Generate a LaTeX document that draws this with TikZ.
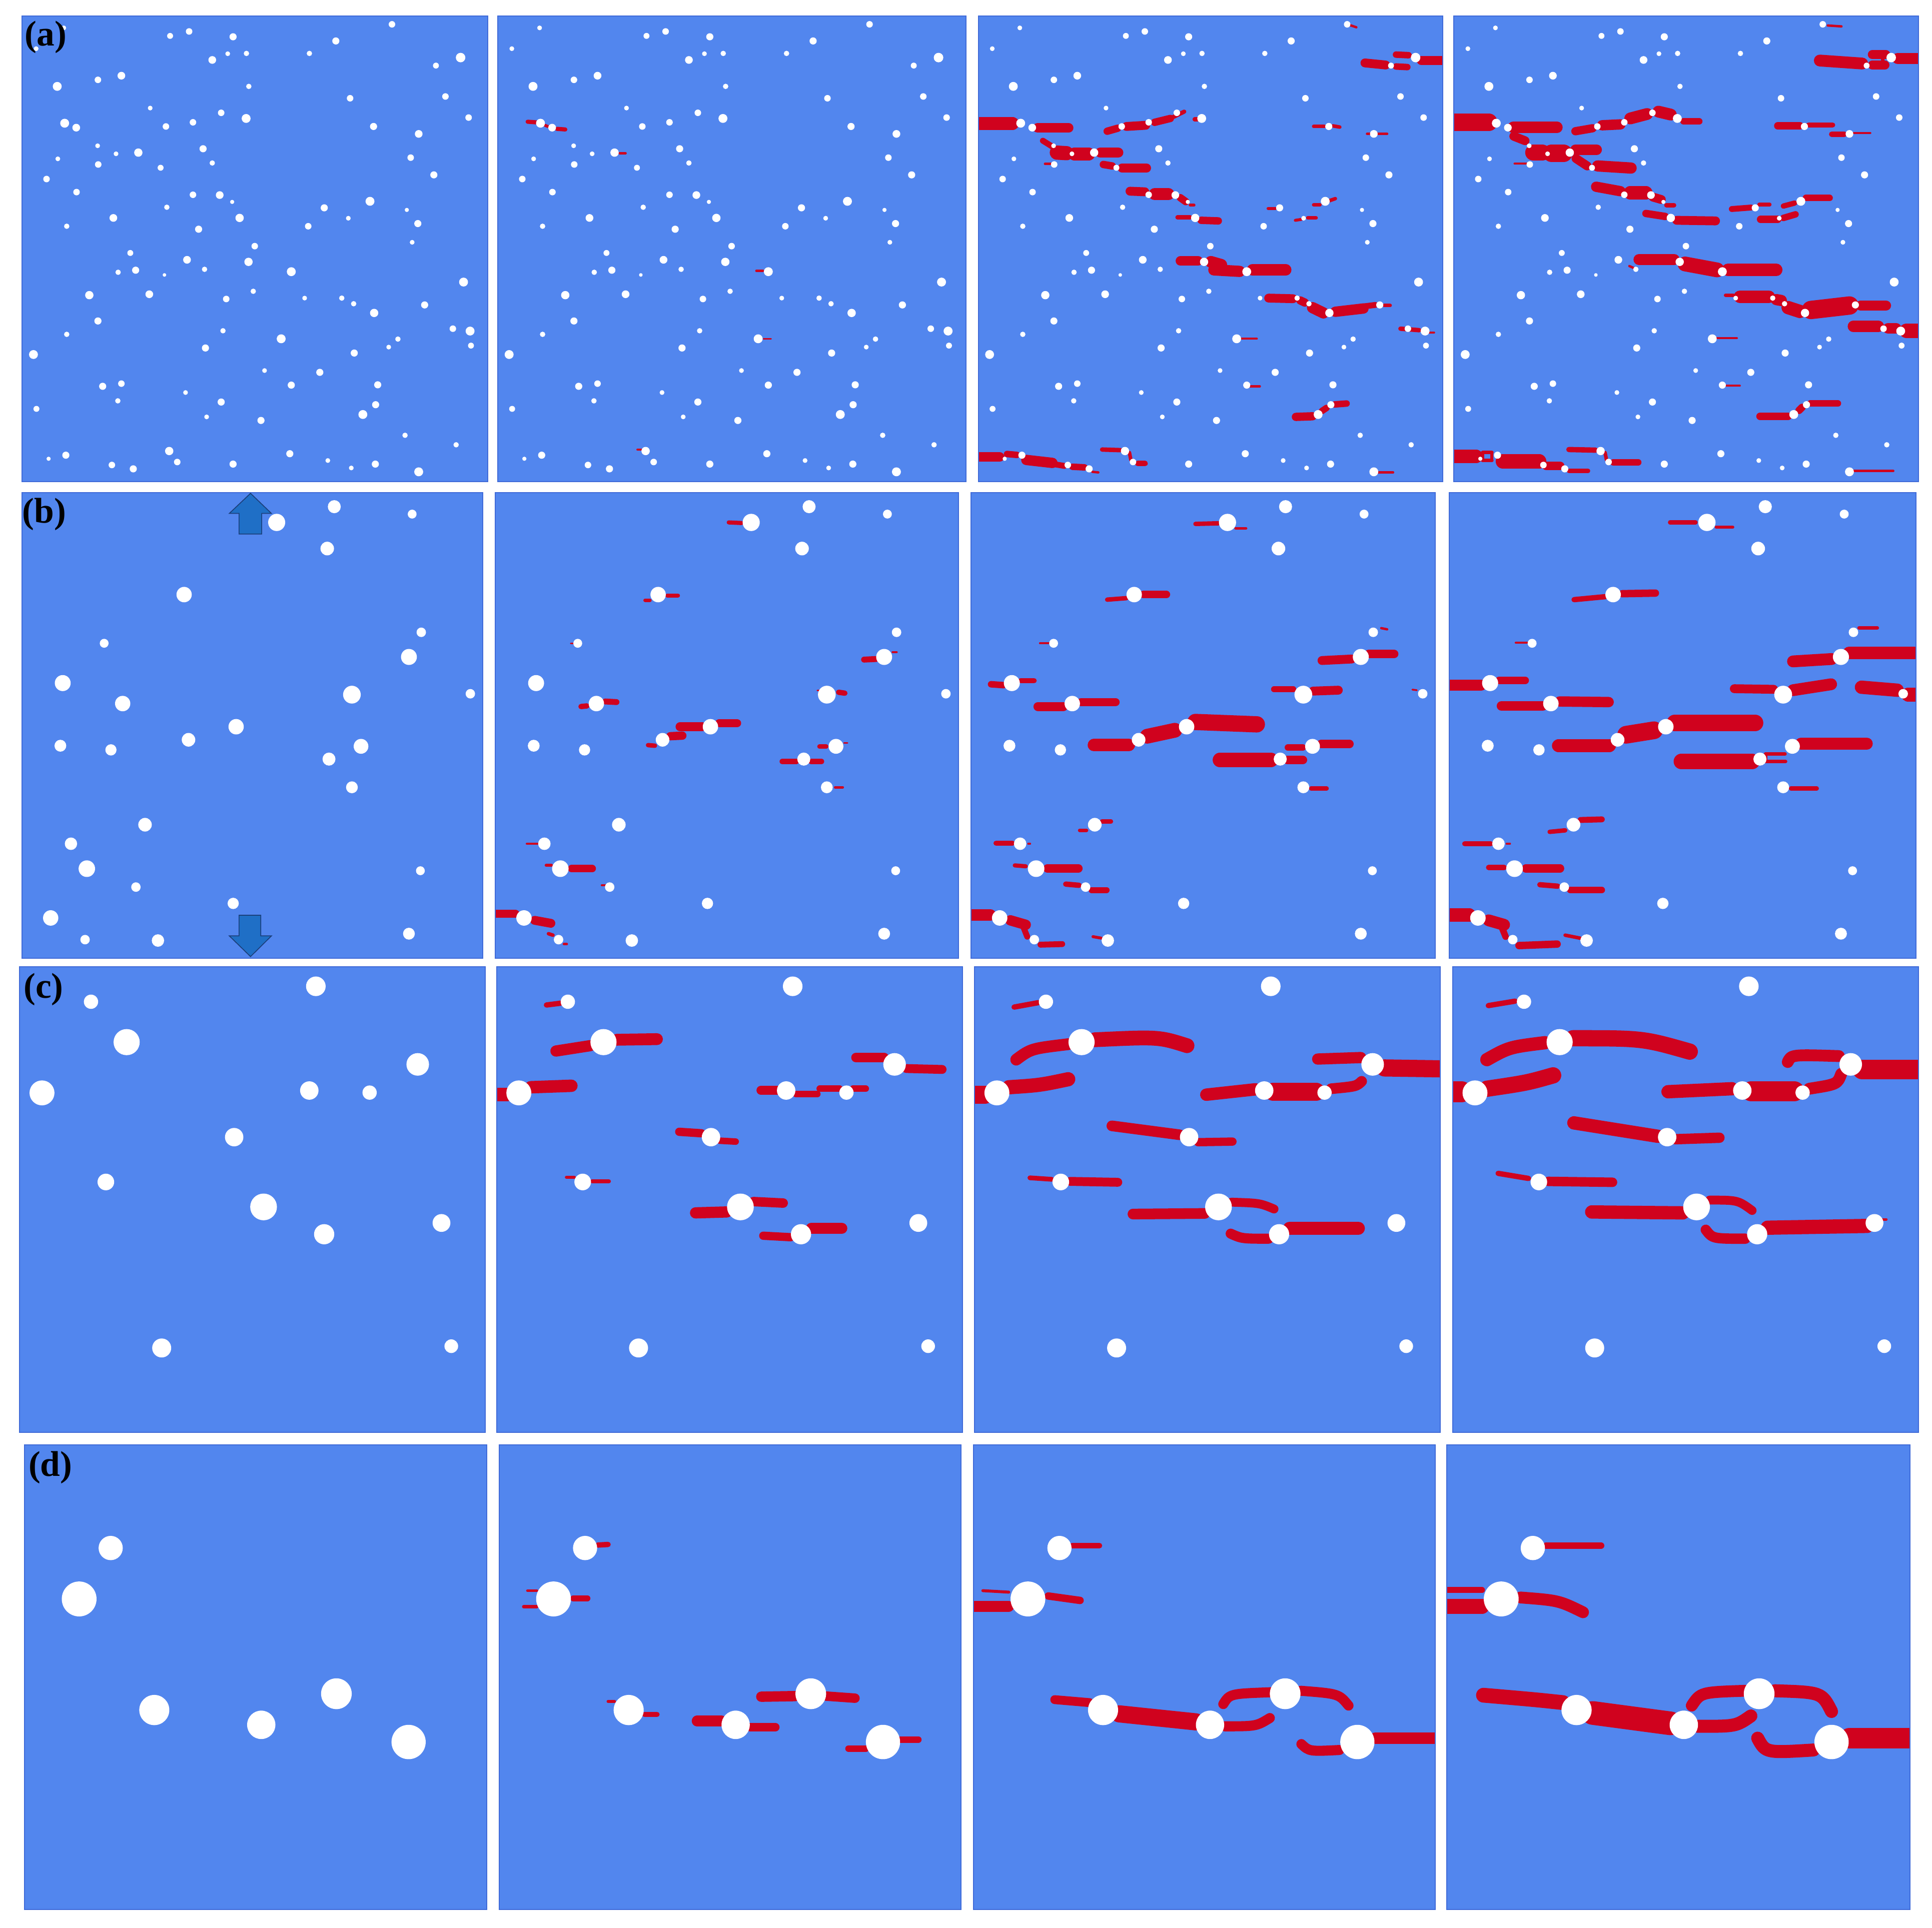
\documentclass[tikz,border=0pt]{standalone}
\usepackage{fontspec}
\setmainfont{Liberation Serif}
\definecolor{bgblue}{HTML}{5286EE}
\definecolor{crack}{HTML}{D0021E}
\definecolor{edge}{HTML}{3F6AD8}
\definecolor{arrowfill}{HTML}{1F6FC6}
\definecolor{arrowedge}{HTML}{1B3F7A}
\tikzset{
  crk/.style={draw=crack, line width=#1*0.24pt, line cap=round, line join=round},
  pbg/.style={fill=bgblue},
  pedge/.style={draw=edge, line width=0.8pt},
  lbl/.style={anchor=north west, inner sep=0pt, font=\fontsize{29}{30}\selectfont\bfseries},
  arr/.style={fill=arrowfill, draw=arrowedge, line width=0.7pt, line join=miter}
}
\newcommand\mypanel[6]{%
  \begin{scope}[shift={(#1,#2)}, xscale=#3/1568, yscale=#4/1568]
    \begin{scope}
      \clip (0,0) rectangle (1568,1568);
      \fill[pbg] (0,0) rectangle (1568,1568);
      #5
      \foreach \x/\y/\d in #6 {\fill[white] (\x,\y) circle (\d/2);}
    \end{scope}
    \draw[pedge] (0,0) rectangle (1568,1568);
  \end{scope}}
\def\dotsA{1245/28/22, 140/40/16, 47/110/16, 498/67/20, 562/52/22, 710/70/24, 1056/84/24, 640/148/26, 692/127/16, 755/126/18, 967/126/18, 1476/140/32, 1393/167/20, 255/215/22, 334/201/26, 118/237/30, 763/237/18, 1104/277/22, 1425/271/22, 431/310/16, 670/326/22, 754/345/30, 1503/342/22, 143/361/30, 182/376/26, 484/372/22, 575/358/22, 1183/372/24, 1335/397/26, 254/437/16, 316/464/16, 391/460/28, 609/447/24, 120/481/16, 256/500/22, 640/495/18, 466/511/20, 1308/477/22, 1386/535/24, 82/549/22, 183/593/22, 575/602/22, 665/603/26, 707/626/14, 1171/624/30, 487/644/18, 1017/646/24, 1295/653/14, 307/680/26, 732/680/28, 1098/681/16, 150/708/18, 963/708/22, 1332/699/24, 594/718/24, 1313/762/16, 783/775/22, 364/798/20, 555/821/26, 762/828/28, 323/863/18, 382/856/24, 614/853/18, 479/872/12, 906/861/30, 1486/896/30, 226/940/28, 428/937/26, 778/927/18, 687/953/22, 951/950/16, 1076/950/18, 1116/969/18, 1355/973/24, 1185/1000/28, 255/1027/24, 150/1072/18, 676/1060/18, 1450/1053/22, 1508/1061/30, 1265/1088/18, 872/1087/30, 1234/1115/16, 1511/1110/20, 38/1140/30, 617/1118/24, 1118/1135/24, 816/1194/16, 1002/1200/24, 271/1247/24, 334/1238/22, 906/1243/24, 1197/1242/24, 550/1268/16, 322/1296/18, 670/1300/24, 1190/1309/24, 48/1323/20, 1147/1342/30, 621/1350/16, 804/1362/24, 1289/1412/18, 1461/1444/18, 147/1479/24, 89/1491/14, 495/1465/28, 901/1474/24, 522/1502/22, 302/1512/22, 710/1509/24, 1029/1497/16, 1108/1522/16, 1189/1509/24, 1335/1535/30, 374/1525/24}
\def\dotsB{1062/47/44, 1327/72/30, 866/100/58, 1038/188/46, 551/343/52, 279/507/30, 1358/470/32, 1316/553/54, 138/641/54, 342/710/52, 1122/680/60, 1525/677/32, 728/788/52, 566/832/46, 130/852/40, 302/866/38, 1153/854/50, 1044/897/44, 1122/992/40, 418/1118/46, 166/1182/42, 220/1266/56, 387/1328/32, 1355/1273/30, 718/1383/38, 97/1432/52, 214/1505/32, 462/1508/42, 1316/1485/40}
\def\dotsC{240/117/48, 997/65/66, 360/253/88, 75/424/84, 1340/328/76, 975/416/62, 1178/423/48, 722/573/62, 290/724/56, 821/808/90, 1025/900/68, 1420/862/60, 478/1283/64, 1453/1277/46}
\def\dotsD{292/348/82, 185/520/118, 440/895/102, 803/945/96, 1058/840/104, 1303/1003/116}
\begin{document}
\begin{tikzpicture}[x=1pt, y=-1pt]
\useasboundingbox (0,0) rectangle (1568,1565);
\fill[white] (0,0) rectangle (1568,1565);

% ---------------- row (a)
\mypanel{18}{13}{378}{378}{}{\dotsA}
\mypanel{404}{13}{380}{378}{%
  \draw[crk=14] (100,356)--(128,358);
  \draw[crk=10] (158,368)--(168,372);
  \draw[crk=14] (198,380)--(226,382);
  \draw[crk=8] (408,462)--(428,462);
  \draw[crk=8] (866,858)--(888,858);
  \draw[crk=6] (890,1087)--(915,1087);
  \draw[crk=8] (468,1460)--(480,1460);
}{\dotsA}
\mypanel{794}{13}{377}{378}{%
  \draw[crk=8] (1252,30)--(1276,38);
  \draw[crk=30] (1305,158)--(1375,165);
  \draw[crk=22] (1410,130)--(1452,132);
  \draw[crk=22] (1410,170)--(1448,172);
  \draw[crk=30] (1495,150)--(1568,150);
  \draw[crk=45] (0,362)--(115,362);
  \draw[crk=32] (200,377)--(305,377);
  \draw[crk=25] (435,388)--(470,378);
  \draw[crk=30] (500,372)--(565,368);
  \draw[crk=25] (595,358)--(648,345);
  \draw[crk=14] (648,345)--(695,322);
  \draw[crk=14] (730,348)--(740,348);
  \draw[crk=20] (218,420)--(250,440);
  \draw[crk=48] (265,460)--(298,462);
  \draw[crk=45] (325,465)--(372,465);
  \draw[crk=35] (412,460)--(472,460);
  \draw[crk=8] (225,498)--(252,498);
  \draw[crk=25] (422,500)--(452,505);
  \draw[crk=30] (485,512)--(568,512);
  \draw[crk=30] (512,590)--(562,592);
  \draw[crk=40] (595,600)--(642,600);
  \draw[crk=25] (682,612)--(700,625);
  \draw[crk=10] (715,637)--(728,637);
  \draw[crk=14] (672,678)--(715,678);
  \draw[crk=25] (752,688)--(810,690);
  \draw[crk=10] (978,648)--(1003,648);
  \draw[crk=12] (1132,636)--(1153,636);
  \draw[crk=12] (1185,622)--(1205,615);
  \draw[crk=10] (1070,688)--(1090,685);
  \draw[crk=12] (1112,680)--(1140,680);
  \draw[crk=12] (1132,372)--(1168,372);
  \draw[crk=12] (1197,370)--(1220,374);
  \draw[crk=8] (1312,397)--(1380,397);
  \draw[crk=32] (682,825)--(742,825);
  \draw[crk=40] (785,828)--(820,838);
  \draw[crk=38] (795,855)--(882,860);
  \draw[crk=38] (925,855)--(1038,855);
  \draw[crk=30] (980,950)--(1062,952);
  \draw[crk=28] (1087,958)--(1102,965);
  \draw[crk=38] (1128,982)--(1165,1000);
  \draw[crk=35] (1205,996)--(1300,985);
  \draw[crk=20] (1300,978)--(1340,973);
  \draw[crk=12] (1370,975)--(1390,975);
  \draw[crk=15] (1425,1053)--(1488,1058);
  \draw[crk=8] (1520,1066)--(1538,1066);
  \draw[crk=7] (885,1087)--(940,1087);
  \draw[crk=8] (918,1247)--(950,1247);
  \draw[crk=28] (1072,1350)--(1128,1348);
  \draw[crk=22] (1160,1330)--(1175,1320);
  \draw[crk=22] (1203,1308)--(1243,1305);
  \draw[crk=32] (0,1485)--(72,1485);
  \draw[crk=22] (97,1475)--(130,1478);
  \draw[crk=35] (162,1495)--(250,1505);
  \draw[crk=20] (260,1510)--(290,1515);
  \draw[crk=22] (318,1518)--(358,1520);
  \draw[crk=8] (385,1535)--(405,1537);
  \draw[crk=15] (418,1460)--(480,1462);
  \draw[crk=12] (510,1470)--(515,1495);
  \draw[crk=18] (538,1507)--(563,1507);
  \draw[crk=8] (1345,1537)--(1400,1537);
}{\dotsA}
\mypanel{1180}{13}{377}{378}{%
  \draw[crk=8] (1262,32)--(1308,35);
  \draw[crk=40] (1235,150)--(1378,160);
  \draw[crk=30] (1412,130)--(1458,130);
  \draw[crk=30] (1412,165)--(1455,165);
  \draw[crk=12] (1445,130)--(1450,165);
  \draw[crk=38] (1498,143)--(1568,143);
  \draw[crk=58] (0,358)--(118,358);
  \draw[crk=38] (200,375)--(348,375);
  \draw[crk=30] (202,405)--(240,420);
  \draw[crk=28] (410,388)--(468,378);
  \draw[crk=35] (500,368)--(562,365);
  \draw[crk=40] (595,345)--(652,330);
  \draw[crk=40] (690,322)--(732,332);
  \draw[crk=22] (775,355)--(828,355);
  \draw[crk=55] (268,460)--(298,460);
  \draw[crk=60] (330,462)--(370,462);
  \draw[crk=35] (410,450)--(482,450);
  \draw[crk=30] (412,480)--(450,505);
  \draw[crk=38] (485,505)--(598,512);
  \draw[crk=8] (205,497)--(250,497);
  \draw[crk=35] (480,575)--(562,590);
  \draw[crk=45] (595,595)--(648,595);
  \draw[crk=30] (672,610)--(700,618);
  \draw[crk=15] (717,637)--(743,637);
  \draw[crk=25] (648,665)--(713,675);
  \draw[crk=30] (752,688)--(883,690);
  \draw[crk=20] (938,650)--(1003,645);
  \draw[crk=12] (1030,635)--(1066,635);
  \draw[crk=18] (1112,640)--(1150,630);
  \draw[crk=22] (1188,613)--(1268,613);
  \draw[crk=25] (1035,685)--(1093,685);
  \draw[crk=22] (1112,680)--(1153,668);
  \draw[crk=25] (1093,370)--(1168,370);
  \draw[crk=18] (1197,367)--(1278,367);
  \draw[crk=18] (1275,398)--(1318,398);
  \draw[crk=8] (1350,394)--(1405,394);
  \draw[crk=38] (625,820)--(743,820);
  \draw[crk=50] (780,835)--(888,855);
  \draw[crk=42] (925,855)--(1088,855);
  \draw[crk=8] (592,842)--(610,850);
  \draw[crk=12] (917,940)--(943,940);
  \draw[crk=42] (965,945)--(1063,945);
  \draw[crk=38] (1088,955)--(1105,958);
  \draw[crk=45] (1128,982)--(1168,995);
  \draw[crk=62] (1205,990)--(1335,975);
  \draw[crk=35] (1373,975)--(1458,975);
  \draw[crk=38] (1348,1045)--(1433,1045);
  \draw[crk=35] (1465,1052)--(1493,1052);
  \draw[crk=50] (1528,1060)--(1568,1060);
  \draw[crk=7] (885,1085)--(955,1085);
  \draw[crk=7] (918,1245)--(965,1245);
  \draw[crk=25] (1033,1348)--(1128,1348);
  \draw[crk=25] (1165,1328)--(1175,1318);
  \draw[crk=22] (1203,1305)--(1296,1305);
  \draw[crk=45] (0,1483)--(75,1483);
  \draw[crk=12] (97,1470)--(128,1470);
  \draw[crk=12] (97,1497)--(128,1497);
  \draw[crk=10] (97,1470)--(97,1497);
  \draw[crk=10] (128,1470)--(128,1497);
  \draw[crk=48] (165,1500)--(288,1500);
  \draw[crk=30] (312,1515)--(358,1515);
  \draw[crk=14] (388,1532)--(453,1532);
  \draw[crk=18] (388,1460)--(478,1462);
  \draw[crk=12] (510,1470)--(515,1495);
  \draw[crk=22] (538,1503)--(622,1503);
  \draw[crk=8] (1350,1532)--(1483,1532);
}{\dotsA}

% ---------------- row (b)
\mypanel{18}{400}{374}{378}{}{\dotsB}
\mypanel{402}{400}{376}{378}{%
  \draw[crk=14] (790,100)--(833,102);
  \draw[crk=12] (507,362)--(523,362);
  \draw[crk=14] (582,346)--(618,346);
  \draw[crk=5] (255,507)--(265,507);
  \draw[crk=20] (1248,562)--(1288,560);
  \draw[crk=8] (1345,537)--(1358,537);
  \draw[crk=5] (1090,665)--(1100,665);
  \draw[crk=18] (1162,672)--(1183,675);
  \draw[crk=18] (290,720)--(310,718);
  \draw[crk=20] (372,703)--(410,705);
  \draw[crk=15] (517,850)--(540,852);
  \draw[crk=28] (592,820)--(633,818);
  \draw[crk=30] (625,788)--(700,788);
  \draw[crk=28] (758,776)--(818,776);
  \draw[crk=15] (1097,855)--(1120,855);
  \draw[crk=5] (1180,843)--(1192,843);
  \draw[crk=20] (972,905)--(1018,905);
  \draw[crk=20] (1070,905)--(1103,905);
  \draw[crk=8] (1150,992)--(1176,992);
  \draw[crk=8] (107,1182)--(143,1182);
  \draw[crk=10] (172,1255)--(190,1255);
  \draw[crk=25] (258,1266)--(328,1266);
  \draw[crk=6] (360,1322)--(373,1322);
  \draw[crk=28] (0,1418)--(68,1418);
  \draw[crk=30] (133,1440)--(188,1450);
  \draw[crk=12] (180,1485)--(195,1490);
  \draw[crk=8] (232,1520)--(242,1520);
}{\dotsB}
\mypanel{788}{400}{377}{378}{%
  \draw[crk=15] (758,105)--(835,103);
  \draw[crk=10] (894,120)--(928,120);
  \draw[crk=15] (460,360)--(525,355);
  \draw[crk=25] (582,343)--(660,343);
  \draw[crk=7] (233,507)--(265,507);
  \draw[crk=8] (1385,456)--(1405,460);
  \draw[crk=30] (1185,565)--(1285,560);
  \draw[crk=30] (1343,543)--(1428,543);
  \draw[crk=20] (1023,662)--(1088,662);
  \draw[crk=30] (1155,668)--(1240,665);
  \draw[crk=6] (1490,663)--(1505,665);
  \draw[crk=22] (68,645)--(110,648);
  \draw[crk=18] (168,633)--(213,633);
  \draw[crk=30] (226,720)--(312,720);
  \draw[crk=28] (372,705)--(488,705);
  \draw[crk=42] (415,850)--(533,850);
  \draw[crk=50] (595,820)--(688,800);
  \draw[crk=55] (758,772)--(965,780);
  \draw[crk=48] (840,900)--(1013,900);
  \draw[crk=30] (1068,900)--(1120,900);
  \draw[crk=22] (1070,858)--(1120,858);
  \draw[crk=28] (1182,846)--(1278,846);
  \draw[crk=14] (1148,996)--(1201,996);
  \draw[crk=12] (367,1137)--(390,1137);
  \draw[crk=14] (442,1107)--(473,1107);
  \draw[crk=18] (85,1180)--(140,1180);
  \draw[crk=6] (193,1182)--(200,1182);
  \draw[crk=14] (148,1255)--(185,1258);
  \draw[crk=28] (258,1265)--(363,1265);
  \draw[crk=18] (320,1318)--(365,1322);
  \draw[crk=20] (407,1338)--(458,1338);
  \draw[crk=38] (0,1422)--(66,1422);
  \draw[crk=35] (133,1440)--(185,1455);
  \draw[crk=20] (178,1465)--(190,1495);
  \draw[crk=20] (235,1522)--(308,1520);
  \draw[crk=10] (412,1495)--(440,1500);
}{\dotsB}
\mypanel{1176}{400}{379}{378}{%
  \draw[crk=14] (742,100)--(828,100);
  \draw[crk=10] (897,116)--(953,116);
  \draw[crk=18] (420,360)--(525,350);
  \draw[crk=25] (582,340)--(693,338);
  \draw[crk=7] (224,505)--(262,505);
  \draw[crk=12] (1377,455)--(1438,455);
  \draw[crk=40] (1155,568)--(1285,560);
  \draw[crk=42] (1343,540)--(1563,540);
  \draw[crk=30] (958,660)--(1090,662);
  \draw[crk=40] (1155,665)--(1283,645);
  \draw[crk=45] (1385,655)--(1505,665);
  \draw[crk=48] (1542,680)--(1568,680);
  \draw[crk=36] (0,648)--(108,648);
  \draw[crk=25] (168,632)--(256,632);
  \draw[crk=32] (176,718)--(315,718);
  \draw[crk=35] (372,703)--(536,705);
  \draw[crk=45] (368,852)--(538,852);
  \draw[crk=60] (595,815)--(688,800);
  \draw[crk=55] (758,775)--(1028,775);
  \draw[crk=52] (780,905)--(1018,905);
  \draw[crk=12] (1063,880)--(1128,880);
  \draw[crk=12] (1063,905)--(1130,905);
  \draw[crk=12] (1063,880)--(1063,905);
  \draw[crk=40] (1182,845)--(1403,845);
  \draw[crk=14] (1148,996)--(1235,996);
  \draw[crk=15] (338,1142)--(390,1137);
  \draw[crk=20] (442,1102)--(513,1100);
  \draw[crk=18] (53,1182)--(140,1182);
  \draw[crk=6] (193,1182)--(205,1182);
  \draw[crk=18] (133,1262)--(185,1262);
  \draw[crk=28] (258,1265)--(373,1265);
  \draw[crk=18] (305,1320)--(365,1325);
  \draw[crk=22] (407,1338)--(513,1338);
  \draw[crk=45] (0,1422)--(68,1422);
  \draw[crk=40] (133,1440)--(185,1455);
  \draw[crk=22] (178,1465)--(190,1495);
  \draw[crk=25] (235,1525)--(363,1520);
  \draw[crk=12] (390,1490)--(440,1500);
}{\dotsB}

% ---------------- row (c)
\mypanel{16}{785}{378}{378}{}{\dotsC}
\mypanel{403}{785}{378}{378}{%
  \draw[crk=18] (168,128)--(215,122);
  \draw[crk=38] (200,283)--(315,265);
  \draw[crk=40] (405,245)--(540,243);
  \draw[crk=45] (0,430)--(35,430);
  \draw[crk=42] (115,405)--(252,400);
  \draw[crk=32] (1210,305)--(1305,305);
  \draw[crk=30] (1380,342)--(1500,345);
  \draw[crk=30] (890,415)--(945,415);
  \draw[crk=22] (1008,428)--(1080,428);
  \draw[crk=22] (1088,410)--(1155,410);
  \draw[crk=22] (1200,410)--(1243,410);
  \draw[crk=28] (615,555)--(690,560);
  \draw[crk=22] (752,585)--(805,588);
  \draw[crk=10] (235,708)--(262,708);
  \draw[crk=14] (322,722)--(378,722);
  \draw[crk=38] (670,828)--(775,825);
  \draw[crk=32] (865,790)--(965,795);
  \draw[crk=28] (898,905)--(990,910);
  \draw[crk=38] (1060,880)--(1162,880);
}{\dotsC}
\mypanel{791}{785}{378}{378}{%
  \draw[crk=18] (133,135)--(215,120);
  \draw[crk=40] (140,312) .. controls (190,275) .. (315,260);
  \draw[crk=50] (405,245) .. controls (620,235) .. (715,265);
  \draw[crk=60] (0,430)--(35,430);
  \draw[crk=48] (115,405) .. controls (220,398) .. (315,378);
  \draw[crk=38] (1155,310)--(1300,305);
  \draw[crk=58] (1380,340)--(1568,343);
  \draw[crk=42] (780,430)--(945,412);
  \draw[crk=60] (1005,420)--(1150,420);
  \draw[crk=36] (1200,410) .. controls (1285,402) .. (1303,385);
  \draw[crk=36] (462,535)--(690,565);
  \draw[crk=28] (752,590)--(868,588);
  \draw[crk=16] (186,710)--(260,715);
  \draw[crk=30] (322,722)--(482,725);
  \draw[crk=36] (533,832)--(775,830);
  \draw[crk=30] (865,792) .. controls (960,795) .. (1008,815);
  \draw[crk=34] (862,898) .. controls (900,915) .. (990,915);
  \draw[crk=44] (1060,880)--(1292,880);
}{\dotsC}
\mypanel{1179}{785}{378}{378}{%
  \draw[crk=18] (120,130)--(210,115);
  \draw[crk=45] (115,312) .. controls (190,270) .. (310,255);
  \draw[crk=55] (405,240) .. controls (640,240) .. (798,285);
  \draw[crk=70] (0,420)--(30,420);
  \draw[crk=55] (115,410) .. controls (250,390) .. (338,365);
  \draw[crk=40] (1128,320) .. controls (1140,295) .. (1300,300);
  \draw[crk=65] (1378,345)--(1568,345);
  \draw[crk=45] (725,420)--(940,410);
  \draw[crk=68] (1005,418)--(1150,418);
  \draw[crk=40] (1200,410) .. controls (1295,395) .. (1308,360);
  \draw[crk=45] (408,525)--(690,570);
  \draw[crk=35] (750,580)--(898,575);
  \draw[crk=18] (153,695)--(255,712);
  \draw[crk=32] (322,722)--(538,725);
  \draw[crk=45] (468,825)--(775,828);
  \draw[crk=30] (865,785) .. controls (960,785) .. (1008,820);
  \draw[crk=35] (852,885) .. controls (875,915) .. (985,915);
  \draw[crk=48] (1060,878)--(1395,872);
  \draw[crk=8] (1445,850)--(1460,850);
}{\dotsC}

% ---------------- row (d)
\mypanel{20}{1173}{375}{377}{}{\dotsD}
\mypanel{405}{1173}{375}{377}{%
  \draw[crk=18] (335,338)--(370,336);
  \draw[crk=10] (97,492)--(128,492);
  \draw[crk=12] (84,546)--(128,546);
  \draw[crk=20] (252,518)--(300,518);
  \draw[crk=10] (370,866)--(392,866);
  \draw[crk=18] (494,910)--(536,910);
  \draw[crk=36] (672,932)--(755,932);
  \draw[crk=28] (852,953)--(938,953);
  \draw[crk=35] (890,850)--(1005,848);
  \draw[crk=32] (1110,848)--(1208,855);
  \draw[crk=22] (1186,1025)--(1245,1025);
  \draw[crk=22] (1362,995)--(1423,995);
}{\dotsD}
\mypanel{790}{1173}{375}{377}{%
  \draw[crk=18] (335,340)--(428,340);
  \draw[crk=10] (32,492)--(120,497);
  \draw[crk=36] (0,545)--(120,545);
  \draw[crk=25] (254,510)--(362,525);
  \draw[crk=30] (276,860)--(394,870);
  \draw[crk=58] (495,908)--(755,935);
  \draw[crk=34] (852,950) .. controls (960,950) .. (1006,922);
  \draw[crk=34] (848,875) .. controls (870,840) .. (1010,835);
  \draw[crk=34] (1111,830) .. controls (1240,840) .. (1273,880);
  \draw[crk=34] (1113,1010) .. controls (1140,1035) .. (1242,1030);
  \draw[crk=40] (1364,990)--(1568,990);
}{\dotsD}
\mypanel{1174}{1173}{376}{377}{%
  \draw[crk=22] (337,340)--(523,340);
  \draw[crk=20] (0,490)--(120,490);
  \draw[crk=50] (0,545)--(120,545);
  \draw[crk=40] (250,515) .. controls (380,525) .. (462,565);
  \draw[crk=50] (125,845) .. controls (300,860) .. (394,870);
  \draw[crk=80] (495,905)--(758,940);
  \draw[crk=44] (850,950) .. controls (980,950) .. (1030,915);
  \draw[crk=40] (830,880) .. controls (860,835) .. (1010,830);
  \draw[crk=44] (1111,830) .. controls (1270,835) .. (1303,900);
  \draw[crk=44] (1053,990) .. controls (1080,1040) .. (1242,1030);
  \draw[crk=70] (1364,990)--(1568,990);
}{\dotsD}

% ---------------- loading arrows in (b)
\begin{scope}[shift={(18,400)}, xscale=374/1568, yscale=378/1578]
  \draw[arr] (777,2) -- (848,70) -- (815,70) -- (815,140) -- (738,140) -- (738,70) -- (705,70) -- cycle;
  \draw[arr] (738,1432) -- (812,1432) -- (812,1502) -- (848,1502) -- (777,1572) -- (705,1502) -- (738,1502) -- cycle;
\end{scope}

% ---------------- labels
\node[lbl] (la) at (20,17) {(a)};
\node[lbl] (lb) at (18,404) {(b)};
\node[lbl] (lc) at (19,790) {(c)};
\node[lbl] (ld) at (23,1178) {(d)};
\end{tikzpicture}
\end{document}
